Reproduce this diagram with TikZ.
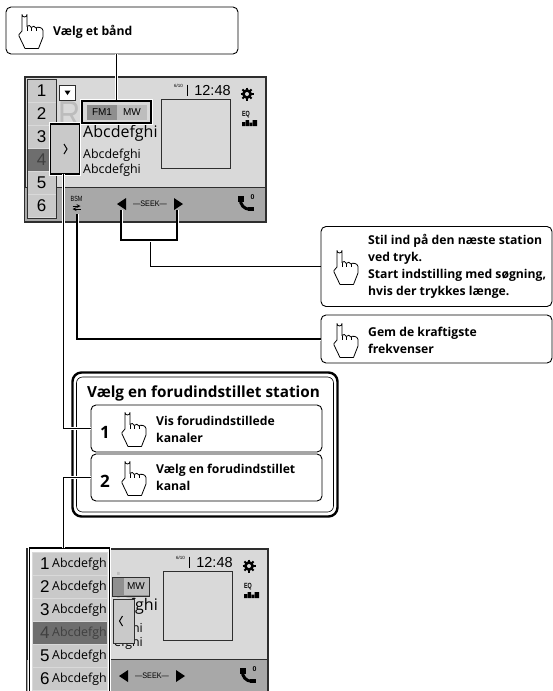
\documentclass[tikz,border=0pt]{standalone}
\usepackage{fontspec}
\setmainfont{Open Sans}
\newfontfamily\scrfont{Open Sans}
\newfontfamily\digfont{Liberation Sans}
\definecolor{scrback}{HTML}{D9D9D9}
\definecolor{scrbar}{HTML}{A8A8A8}
\definecolor{scrcell}{HTML}{C9C9C9}
\definecolor{scrdark}{HTML}{6E6E6E}
\definecolor{scrghost}{HTML}{BCBCBC}
\definecolor{scredge}{HTML}{2E2E2E}
\definecolor{fmdark}{HTML}{8F8F8F}
\definecolor{fmlight}{HTML}{BDBDBD}
\tikzset{
  wirebare/.style={line width=1.4pt},
  wire/.style={wirebare,preaction={draw=white,line width=3pt}},
  haloframe/.style={draw=black,line width=1.6pt,preaction={draw=white,line width=3.8pt}},
  callbox/.style={draw=black,line width=0.9pt,fill=white,rounded corners=5pt,inner sep=0pt},
  calltext/.style={anchor=west,align=left,inner sep=0pt,font=\fontsize{12.2}{17.2}\selectfont\bfseries},
  stepnum/.style={inner sep=0pt,font=\fontsize{17}{17}\selectfont\bfseries},
  handline/.style={draw=black,line width=0.8pt,fill=white,line join=round},
  presetcell/.style={fill=scrcell,draw=white!70!gray,line width=0.5pt,minimum width=29pt,minimum height=23pt,inner sep=0pt,font=\fontsize{17}{17}\selectfont\digfont},
  panelcell/.style={fill=scrcell,draw=white!70!gray,line width=0.5pt,minimum width=75pt,minimum height=23pt,inner sep=0pt},
  panelnum/.style={anchor=west,inner sep=0pt,font=\fontsize{17}{17}\selectfont\digfont},
  abcbig/.style={anchor=west,inner sep=0pt,font=\fontsize{16}{16}\selectfont\scrfont},
  abcsmall/.style={anchor=west,inner sep=0pt,font=\fontsize{12.4}{12}\selectfont\scrfont},
  ghosttext/.style={anchor=base west,inner sep=0pt,xscale=0.85,text=scrghost,font=\fontsize{36}{36}\selectfont\digfont},
  tinylabel/.style={inner sep=0pt,xscale=0.72,font=\fontsize{7.5}{8}\selectfont\digfont},
  handpic/.pic={
    \path[handline] (3,19) -- (3,2.5) arc[start angle=180,end angle=0,radius=2.5] -- (8,14.5)
      .. controls (9,12.8) and (11.8,13) .. (12.3,15.5)
      .. controls (13,13.6) and (16.6,13.8) .. (17,16)
      .. controls (18,14.6) and (23.6,15) .. (24,18.5)
      -- (24,25) -- (19.5,36.5) -- (6,36.5) -- (0,24) -- (0,22.5) -- cycle;
    \draw[line width=0.7pt] (8,14.5) -- (8,19) (12.3,15.5) -- (12.3,19) (17,16) -- (17,19);
  },
  screenbase/.pic={
    \node[draw=scredge,line width=2pt,fill=scrback,minimum width=241pt,minimum height=145pt,inner sep=0pt] (frame) at (145,149) {};
    \fill[scrbar] (25,187) rectangle (265,221);
    \draw[scredge,line width=1pt] (25,187) -- (265,187);
    \node[draw=scredge,line width=0.9pt,fill=scrback,minimum size=69pt,inner sep=0pt] (art) at (195.5,133.5) {};
    \node[inner sep=0pt,font=\fontsize{4.5}{5}\selectfont\digfont] (track) at (178.5,86) {6/10};
    \draw[line width=0.9pt] (187.5,84.5) -- (187.5,96);
    \node[inner sep=0pt,font=\fontsize{14.5}{16}\selectfont\digfont] (clock) at (212.5,90.5) {12:48};
    \draw[line width=2pt] (247,87.5) -- (247,100.5);
    \draw[line width=2pt] (240.5,94) -- (253.5,94);
    \draw[line width=2pt] (242.4,89.4) -- (251.6,98.6);
    \draw[line width=2pt] (242.4,98.6) -- (251.6,89.4);
    \fill[black] (247,94) circle[radius=5];
    \fill[scrback] (247,94) circle[radius=2];
    \node[tinylabel,font=\fontsize{7.5}{8}\selectfont\bfseries\digfont] (eqtag) at (246,115) {EQ};
    \fill[black] (242,126) rectangle (245,122) (245.6,126) rectangle (249,120) (249.6,126) rectangle (252,122.5) (252.6,126) rectangle (257,120);
    \node[tinylabel] (bsm) at (76.5,198.5) {BSM};
    \draw[line width=0.8pt,-stealth] (72.5,206) -- (80.5,206);
    \draw[line width=0.8pt,-stealth] (80.5,209) -- (72.5,209);
    \fill[black] (117,204) -- (126,198) -- (126,210) -- cycle;
    \fill[black] (183,204) -- (174,198) -- (174,210) -- cycle;
    \node[tinylabel,xscale=1.26,font=\fontsize{8}{8}\selectfont\digfont] (seek) at (150,204) {—SEEK—};
    \draw[line width=3pt] (240.5,198.5) .. controls (240,205) and (244,209) .. (250,209.5);
    \fill[black] (238,196) rectangle (243.5,202);
    \fill[black] (248,206.5) rectangle (254,211);
    \node[inner sep=0pt,font=\fontsize{7}{7}\selectfont\bfseries\digfont] (nocall) at (252.5,197) {0};
  }
}
\begin{document}
\begin{tikzpicture}[x=1pt,y=-1pt]

\clip (0,0) rectangle (553,691);

\node[callbox,minimum width=232pt,minimum height=47pt] (bandcall) at (122,30.5) {};
\pic at (19,12) {handpic};
\node[calltext] (bandtext) at (53,32) {Vælg et bånd};

\pic (upper) at (0,0) {screenbase};
\node[ghosttext] (ghostup) at (58,126) {R};
\node[abcbig] (abca) at (83,133.5) {Abcdefghi};
\node[abcsmall] (abcb) at (83,155) {Abcdefghi};
\node[abcsmall] (abcc) at (83,170) {Abcdefghi};

\node[presetcell] (ua) at (41.5,90.5) {1};
\node[presetcell] (ub) at (41.5,113.5) {2};
\node[presetcell] (uc) at (41.5,136.5) {3};
\node[presetcell,fill=scrdark,text=black!75] (ud) at (41.5,159.5) {4};
\node[presetcell] (ue) at (41.5,182.5) {5};
\node[presetcell] (uf) at (41.5,205.5) {6};
\draw[scredge,line width=0.9pt] (27,79) rectangle (56,218);

\node[draw=scredge,fill=white,line width=0.9pt,minimum width=16pt,minimum height=15pt,inner sep=0pt] (listbtn) at (67.5,92.5) {};
\fill[black] (64.5,90.5) -- (70.5,90.5) -- (67.5,95) -- cycle;

\node[haloframe,fill=scrback,minimum width=69pt,minimum height=22pt,inner sep=0pt] (bandbox) at (116.5,112) {};
\node[fill=fmdark,minimum width=30pt,minimum height=15pt,inner sep=0pt,font=\fontsize{10}{10}\selectfont\digfont] (fmbtn) at (102,112) {FM1};
\node[fill=fmlight,minimum width=30pt,minimum height=15pt,inner sep=0pt,font=\fontsize{10}{10}\selectfont\digfont] (mwbtn) at (132,112) {MW};

\node[haloframe,fill=scrcell,minimum width=29pt,minimum height=50pt,inner sep=0pt] (tabopen) at (65,149) {};
\draw[line width=1pt] (64,144) -- (67,149) -- (64,154);

\coordinate (tabfoot) at (63.5,174);
\coordinate (bsmfoot) at (77,214);
\coordinate (seekleft) at (121,210);
\coordinate (seekright) at (177,210);
\coordinate (seekmid) at (150.5,240);

\node[callbox,minimum width=231pt,minimum height=80pt] (seekcall) at (436.5,266.5) {};
\pic at (334,248) {handpic};
\node[calltext] (seektext) at (368,266.5) {Stil ind på den næste station\\ved tryk.\\Start indstilling med søgning,\\hvis der trykkes længe.};

\node[callbox,minimum width=231pt,minimum height=48pt] (bsmcall) at (436.5,339) {};
\pic at (334,321) {handpic};
\node[calltext] (bsmtext) at (368,340.5) {Gem de kraftigste\\frekvenser};

\node[draw=black,line width=2.4pt,fill=white,rounded corners=9pt,minimum width=265pt,minimum height=144pt,inner sep=0pt] (stepframe) at (205,444.5) {};
\node[draw=black,line width=0.6pt,rounded corners=6pt,minimum width=257pt,minimum height=135pt,inner sep=0pt] (stepinner) at (205,444.5) {};
\node[inner sep=0pt,font=\fontsize{15.3}{14}\selectfont\bfseries] (steptitle) at (203.5,393) {Vælg en forudindstillet station};

\node[callbox,minimum width=231pt,minimum height=47pt] (stepa) at (206.5,428.5) {};
\node[stepnum] (numa) at (105,432) {1};
\pic at (122,410) {handpic};
\node[calltext] (texta) at (156,429.5) {Vis forudindstillede\\kanaler};

\node[callbox,minimum width=231pt,minimum height=47pt] (stepb) at (206.5,477.5) {};
\node[stepnum] (numb) at (105,481) {2};
\pic at (122,459) {handpic};
\node[calltext] (textb) at (156,477.5) {Vælg en forudindstillet\\kanal};

\pic (lower) at (2,472) {screenbase};
\node[ghosttext] (ghostlow) at (115,598) {io};
\node[abcbig,anchor=east] (abcd) at (158,606) {fghi};
\node[abcsmall,anchor=east] (abce) at (143,628) {hi};
\node[abcsmall,anchor=east] (abcf) at (143,643) {efghi};

\node[draw=scredge,line width=0.9pt,fill=fmdark,minimum width=37pt,minimum height=19pt,inner sep=0pt] (lowband) at (131,586.5) {};
\node[fill=fmlight,minimum width=25pt,minimum height=17pt,inner sep=0pt,font=\fontsize{10}{10}\selectfont\digfont] (lowmw) at (136,586.5) {MW};

\node[draw=scredge,line width=0.9pt,fill=scrcell,minimum width=21pt,minimum height=44pt,inner sep=0pt] (tabclose) at (123.5,621) {};
\draw[line width=1pt] (122.5,616) -- (119.5,621) -- (122.5,626);

\node[haloframe,fill=white,minimum width=80pt,minimum height=150pt,inner sep=0pt] (panelback) at (69.5,623) {};
\node[panelcell] (pa) at (69.5,563.5) {};
\node[panelcell] (pb) at (69.5,586.5) {};
\node[panelcell] (pc) at (69.5,609.5) {};
\node[panelcell,fill=scrdark] (pd) at (69.5,632.5) {};
\node[panelcell] (pe) at (69.5,655.5) {};
\node[panelcell] (pf) at (69.5,678.5) {};
\node[panelnum] (pan) at (40,563.5) {1};
\node[panelnum] (pbn) at (40,586.5) {2};
\node[panelnum] (pcn) at (40,609.5) {3};
\node[panelnum,text=black!75] (pdn) at (40,632.5) {4};
\node[panelnum] (pen) at (40,655.5) {5};
\node[panelnum] (pfn) at (40,678.5) {6};
\node[abcsmall] (pat) at (52,564) {Abcdefgh};
\node[abcsmall] (pbt) at (52,587) {Abcdefgh};
\node[abcsmall] (pct) at (52,610) {Abcdefgh};
\node[abcsmall,text=black!75] (pdt) at (52,633) {Abcdefgh};
\node[abcsmall] (pet) at (52,656) {Abcdefgh};
\node[abcsmall] (pft) at (52,679) {Abcdefgh};

\coordinate (panelfoot) at (63.5,548);

\draw[wire] (bandcall.south -| bandbox.north) -- (bandbox.north);
\draw[wire] (bsmfoot) |- (bsmcall.west);
\draw[wirebare] (seekmid) |- (seekcall.west);
\draw[wire] (seekleft) |- (seekmid) -| (seekright);
\draw[wire] (tabfoot) |- (stepa.west);
\draw[wire] (stepb.west) -| (panelfoot);

\end{tikzpicture}
\end{document}
